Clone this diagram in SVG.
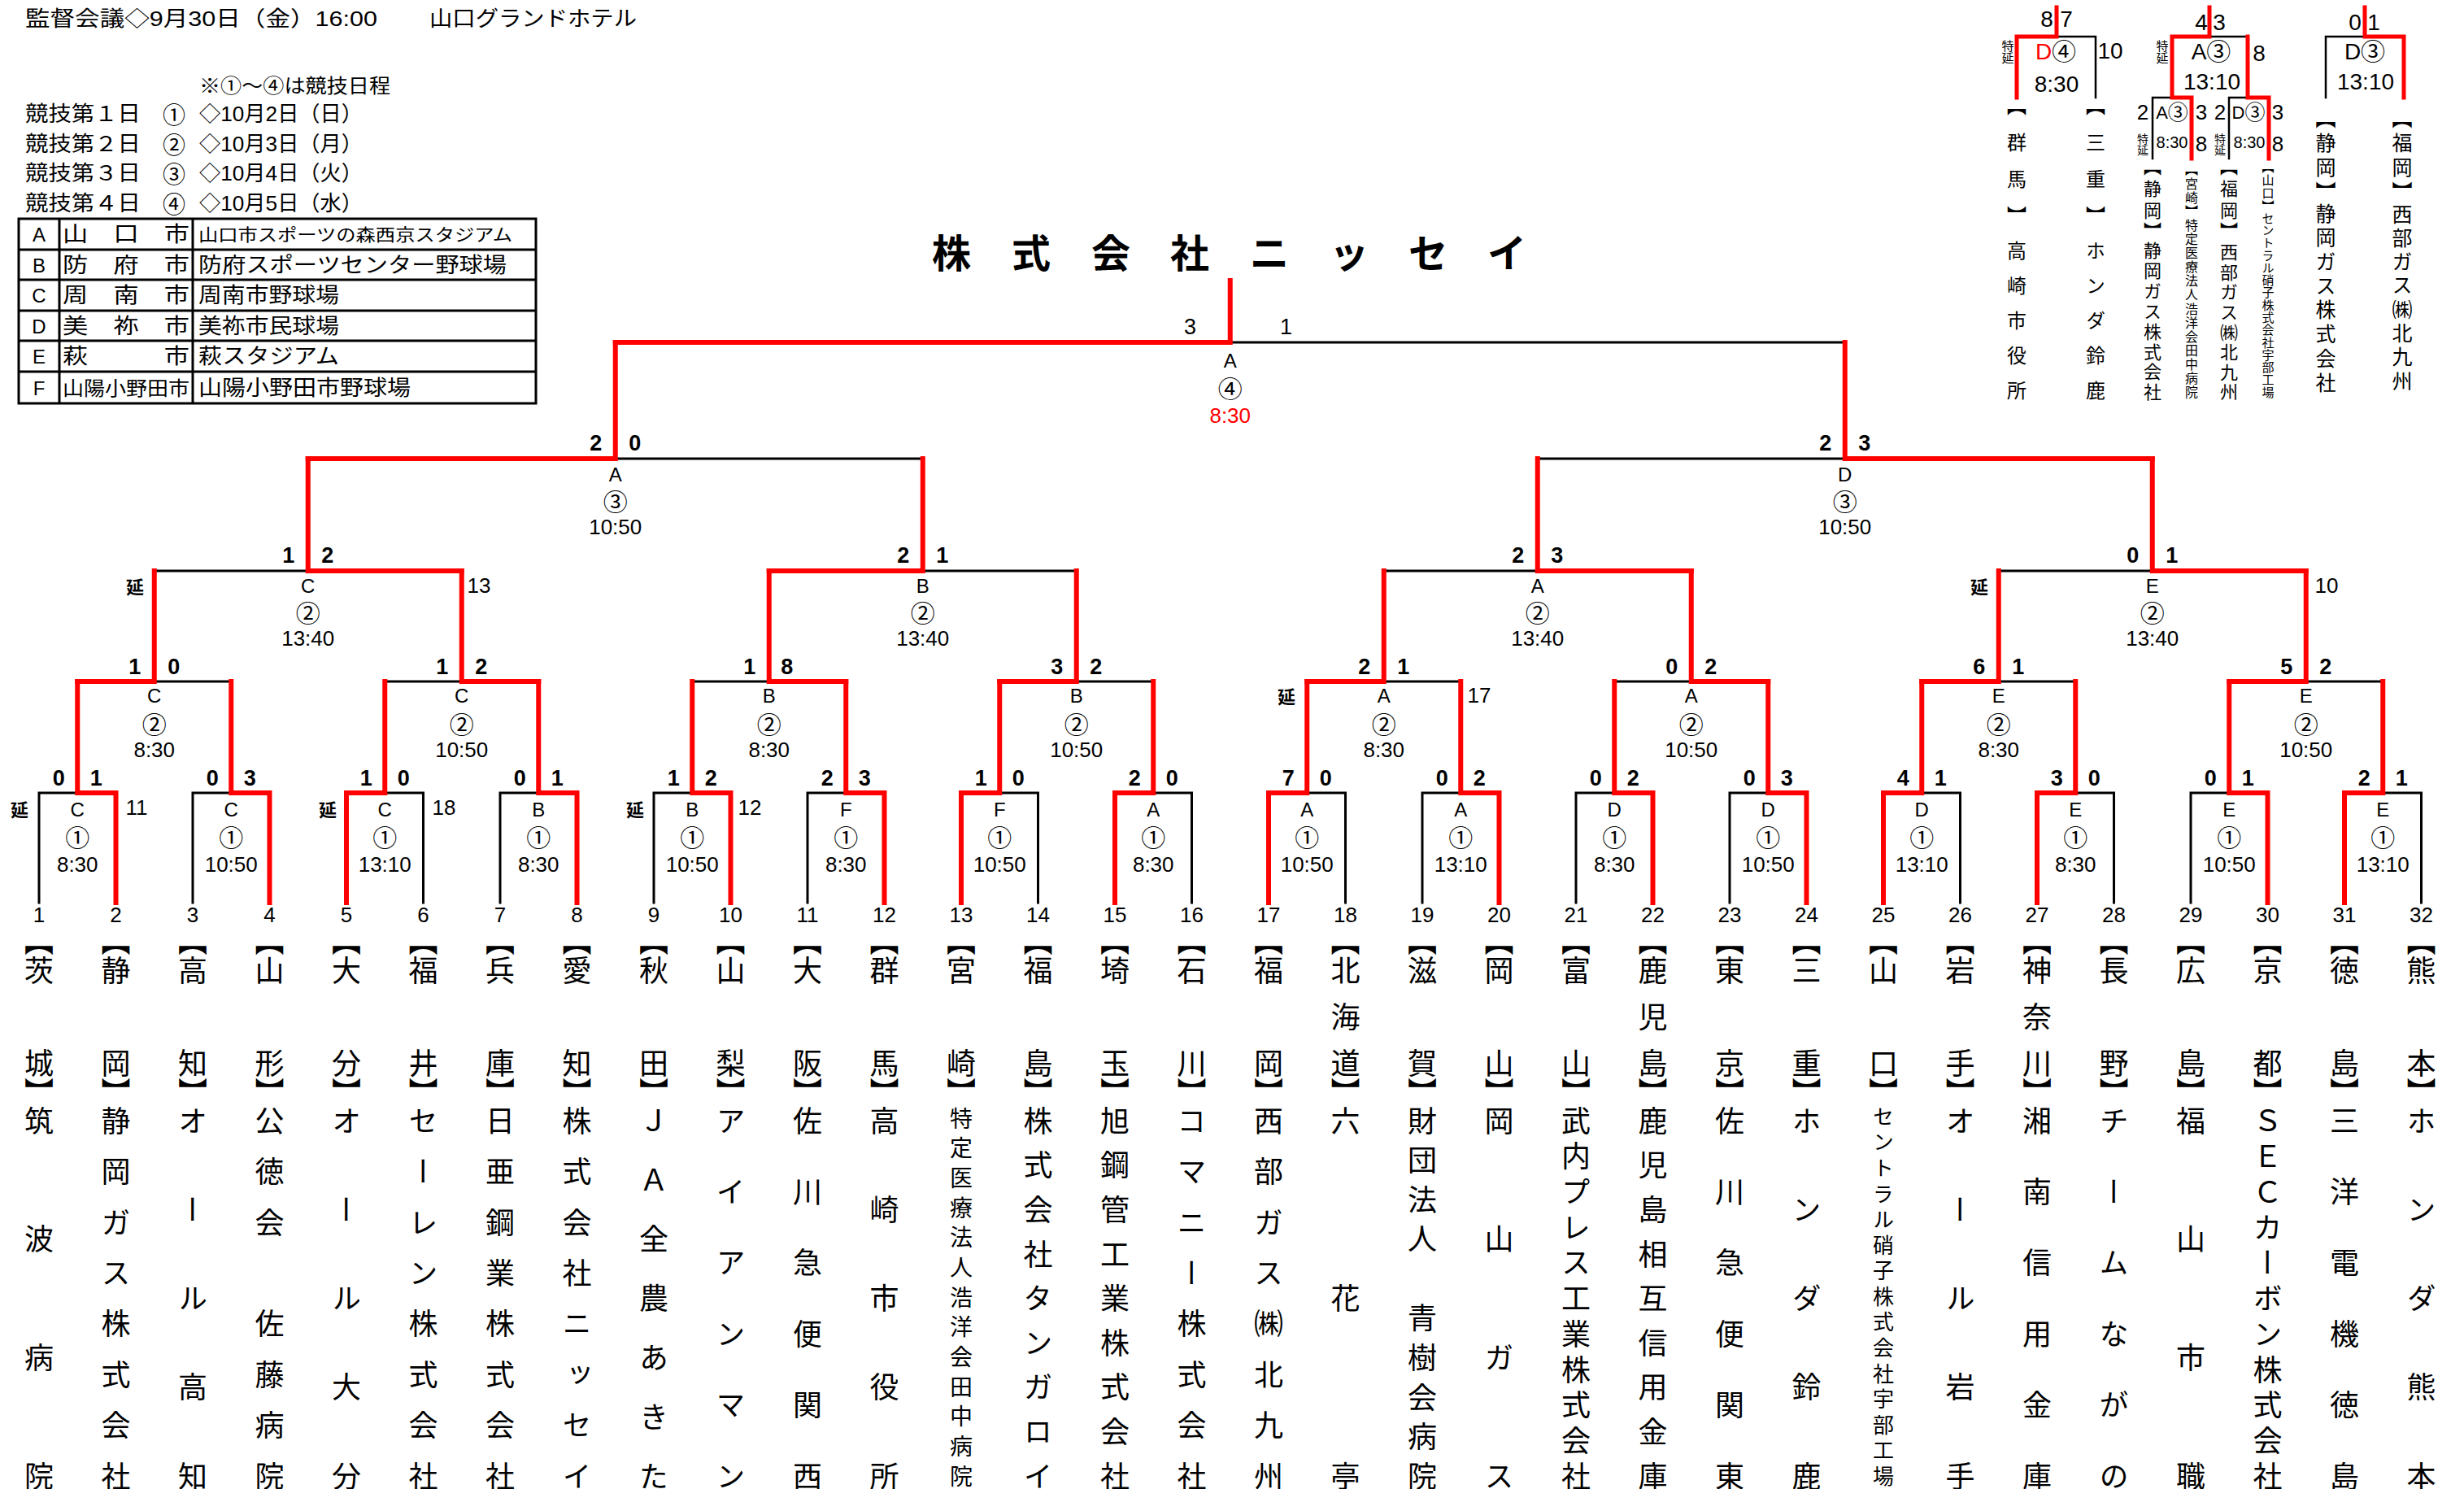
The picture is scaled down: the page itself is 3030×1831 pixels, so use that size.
<svg xmlns="http://www.w3.org/2000/svg" width="3030" height="1831" viewBox="0 0 3030 1831">
<style>
text{font-family:"Liberation Sans","Noto Sans CJK JP",sans-serif;dominant-baseline:central;fill:#000}
.r{fill:none;stroke:#f00;stroke-width:6;stroke-linecap:square;stroke-linejoin:miter}
.k{fill:none;stroke:#000;stroke-width:3;stroke-linecap:square}
.rs{fill:none;stroke:#f00;stroke-width:5;stroke-linecap:square}
.ks{fill:none;stroke:#000;stroke-width:2.5;stroke-linecap:square}
.tb{fill:none;stroke:#000;stroke-width:3}
.v{font-size:24px;text-anchor:middle}
.c{font-family:"Noto Sans CJK JP",sans-serif;font-size:30px;text-anchor:middle}
.t{font-size:26px;text-anchor:middle}
.s{font-size:27px;font-weight:bold;text-anchor:middle}
.fs{font-size:27px;text-anchor:middle}
.n{font-size:26px;text-anchor:middle}
.e{font-family:"Noto Sans CJK JP",sans-serif;font-size:22px;font-weight:bold;text-anchor:middle}
.x{font-size:26px;text-anchor:middle}
.vt{font-family:"Noto Sans CJK JP",sans-serif;writing-mode:vertical-rl;text-anchor:middle}
.f36{font-size:36px}
.f28{font-size:28px}
.f26{font-size:26px}
.lg{font-size:26px}
.lc{font-family:"Noto Sans CJK JP",sans-serif;font-size:28px;text-anchor:middle}
.u{font-size:28px;text-anchor:middle}
.red{fill:#f00}
</style>
<rect width="3030" height="1831" fill="#fff"/>

<g id="legend">
<text class="lg" x="31" y="23" textLength="433" lengthAdjust="spacingAndGlyphs">監督会議◇9月30日（金）16:00</text>
<text class="lg" x="528" y="23" textLength="255" lengthAdjust="spacingAndGlyphs">山口グランドホテル</text>
<text class="lg" x="245" y="105" style="font-size:24px" textLength="235" lengthAdjust="spacingAndGlyphs">※①～④は競技日程</text>
<text class="lg" x="31" y="140" textLength="142" lengthAdjust="spacingAndGlyphs">競技第１日</text>
<text class="lc" x="214" y="140">①</text>
<text class="lg" x="245" y="140" textLength="201" lengthAdjust="spacingAndGlyphs">◇10月2日（日）</text>
<text class="lg" x="31" y="177" textLength="142" lengthAdjust="spacingAndGlyphs">競技第２日</text>
<text class="lc" x="214" y="177">②</text>
<text class="lg" x="245" y="177" textLength="201" lengthAdjust="spacingAndGlyphs">◇10月3日（月）</text>
<text class="lg" x="31" y="213" textLength="142" lengthAdjust="spacingAndGlyphs">競技第３日</text>
<text class="lc" x="214" y="213">③</text>
<text class="lg" x="245" y="213" textLength="201" lengthAdjust="spacingAndGlyphs">◇10月4日（火）</text>
<text class="lg" x="31" y="250" textLength="142" lengthAdjust="spacingAndGlyphs">競技第４日</text>
<text class="lc" x="214" y="250">④</text>
<text class="lg" x="245" y="250" textLength="201" lengthAdjust="spacingAndGlyphs">◇10月5日（水）</text>
<rect class="tb" x="23" y="269" width="636" height="227"/>
<path class="tb" d="M23 307H659M23 344H659M23 382H659M23 419H659M23 457H659M73 269V496M237 269V496"/>
<text class="v" x="48" y="288">A</text>
<text class="v" x="48" y="326">B</text>
<text class="v" x="48" y="363">C</text>
<text class="v" x="48" y="401">D</text>
<text class="v" x="48" y="438">E</text>
<text class="v" x="48" y="477">F</text>
<text class="lg" x="77" y="288" textLength="156" lengthAdjust="spacingAndGlyphs">山　口　市</text>
<text class="lg" x="77" y="326" textLength="156" lengthAdjust="spacingAndGlyphs">防　府　市</text>
<text class="lg" x="77" y="363" textLength="156" lengthAdjust="spacingAndGlyphs">周　南　市</text>
<text class="lg" x="77" y="401" textLength="156" lengthAdjust="spacingAndGlyphs">美　祢　市</text>
<text class="lg" x="77" y="438" textLength="156" lengthAdjust="spacingAndGlyphs">萩　　　市</text>
<text class="lg" x="77" y="477" style="font-size:24px" textLength="156" lengthAdjust="spacingAndGlyphs">山陽小野田市</text>
<text class="lg" x="244" y="288" style="font-size:21px" textLength="386" lengthAdjust="spacingAndGlyphs">山口市スポーツの森西京スタジアム</text>
<text class="lg" x="244" y="326" textLength="379" lengthAdjust="spacingAndGlyphs">防府スポーツセンター野球場</text>
<text class="lg" x="244" y="363" textLength="173" lengthAdjust="spacingAndGlyphs">周南市野球場</text>
<text class="lg" x="244" y="401" textLength="173" lengthAdjust="spacingAndGlyphs">美祢市民球場</text>
<text class="lg" x="244" y="438" textLength="173" lengthAdjust="spacingAndGlyphs">萩スタジアム</text>
<text class="lg" x="244" y="477" textLength="261" lengthAdjust="spacingAndGlyphs">山陽小野田市野球場</text>
</g>

<g id="title">
<text style="font-family:'Noto Sans CJK JP',sans-serif;font-size:48px;font-weight:bold;text-anchor:middle" x="1170 1268 1366 1463 1561 1659 1756 1853" y="308">株式会社ニッセイ</text>
</g>

<g id="connectors">
<path class="k" d="M48 1110V975H95.25M237 1110V975H284.25M520.5 1110V975H473.25M615 1110V975H662.25M804 1110V975H851.25M993 1110V975H1040.25M1276.5 1110V975H1229.25M1465.5 1110V975H1418.25M1654.5 1110V975H1607.25M1749 1110V975H1796.25M1938 1110V975H1985.25M2127 1110V975H2174.25M2410.5 1110V975H2363.25M2599.5 1110V975H2552.25M2694 1110V975H2741.25M2977.5 1110V975H2930.25"/>
<path class="k" d="M189.75 838H284.25M567.75 838H473.25M945.75 838H851.25M1323.75 838H1418.25M1701.75 838H1796.25M2079.75 838H1985.25M2457.75 838H2552.25M2835.75 838H2930.25"/>
<path class="k" d="M378.75 702H189.75M1134.75 702H1323.75M1890.75 702H1701.75M2646.75 702H2457.75"/>
<path class="k" d="M756.75 564H1134.75M2268.75 564H1890.75M1512.75 421H2268.75"/>
<path class="r" d="M142.5 1110V975H95.25V838"/>
<path class="r" d="M331.5 1110V975H284.25V838"/>
<path class="r" d="M426 1110V975H473.25V838"/>
<path class="r" d="M709.5 1110V975H662.25V838"/>
<path class="r" d="M898.5 1110V975H851.25V838"/>
<path class="r" d="M1087.5 1110V975H1040.25V838"/>
<path class="r" d="M1182 1110V975H1229.25V838"/>
<path class="r" d="M1371 1110V975H1418.25V838"/>
<path class="r" d="M1560 1110V975H1607.25V838"/>
<path class="r" d="M1843.5 1110V975H1796.25V838"/>
<path class="r" d="M2032.5 1110V975H1985.25V838"/>
<path class="r" d="M2221.5 1110V975H2174.25V838"/>
<path class="r" d="M2316 1110V975H2363.25V838"/>
<path class="r" d="M2505 1110V975H2552.25V838"/>
<path class="r" d="M2788.5 1110V975H2741.25V838"/>
<path class="r" d="M2883 1110V975H2930.25V838"/>
<path class="r" d="M95.25 838H189.75V702"/>
<path class="r" d="M662.25 838H567.75V702"/>
<path class="r" d="M1040.25 838H945.75V702"/>
<path class="r" d="M1229.25 838H1323.75V702"/>
<path class="r" d="M1607.25 838H1701.75V702"/>
<path class="r" d="M2174.25 838H2079.75V702"/>
<path class="r" d="M2363.25 838H2457.75V702"/>
<path class="r" d="M2741.25 838H2835.75V702"/>
<path class="r" d="M567.75 702H378.75V564"/>
<path class="r" d="M945.75 702H1134.75V564"/>
<path class="r" d="M2079.75 702H1890.75V564"/>
<path class="r" d="M2835.75 702H2646.75V564"/>
<path class="r" d="M378.75 564H756.75V421"/>
<path class="r" d="M2646.75 564H2268.75V421"/>
<path class="r" d="M756.75 421H1512.75V345"/>
<path class="ks" d="M2529 45H2577V120M2717 45H2764M2647 195V120H2671M2741 195V120H2764M2908 45H2860V120"/>
<path class="rs" d="M2529 9V45H2480V120"/>
<path class="rs" d="M2717 9V45H2671V120H2695V195"/>
<path class="rs" d="M2764 45V120H2790V195"/>
<path class="rs" d="M2908 9V45H2956V120"/>
</g>

<g id="matches">
<g id="r1-1"><text class="s" x="72.25" y="957">0</text><text class="s" x="118.25" y="957">1</text><text class="v" x="95.25" y="995">C</text><text class="c" x="95.25" y="1028">①</text><text class="t" x="95.25" y="1063">8:30</text><text class="e" x="24" y="994">延</text><text class="x" x="168" y="993">11</text></g>
<g id="r1-2"><text class="s" x="261.25" y="957">0</text><text class="s" x="307.25" y="957">3</text><text class="v" x="284.25" y="995">C</text><text class="c" x="284.25" y="1028">①</text><text class="t" x="284.25" y="1063">10:50</text></g>
<g id="r1-3"><text class="s" x="450.25" y="957">1</text><text class="s" x="496.25" y="957">0</text><text class="v" x="473.25" y="995">C</text><text class="c" x="473.25" y="1028">①</text><text class="t" x="473.25" y="1063">13:10</text><text class="e" x="403" y="994">延</text><text class="x" x="546" y="993">18</text></g>
<g id="r1-4"><text class="s" x="639.25" y="957">0</text><text class="s" x="685.25" y="957">1</text><text class="v" x="662.25" y="995">B</text><text class="c" x="662.25" y="1028">①</text><text class="t" x="662.25" y="1063">8:30</text></g>
<g id="r1-5"><text class="s" x="828.25" y="957">1</text><text class="s" x="874.25" y="957">2</text><text class="v" x="851.25" y="995">B</text><text class="c" x="851.25" y="1028">①</text><text class="t" x="851.25" y="1063">10:50</text><text class="e" x="781" y="994">延</text><text class="x" x="922" y="993">12</text></g>
<g id="r1-6"><text class="s" x="1017.25" y="957">2</text><text class="s" x="1063.25" y="957">3</text><text class="v" x="1040.25" y="995">F</text><text class="c" x="1040.25" y="1028">①</text><text class="t" x="1040.25" y="1063">8:30</text></g>
<g id="r1-7"><text class="s" x="1206.25" y="957">1</text><text class="s" x="1252.25" y="957">0</text><text class="v" x="1229.25" y="995">F</text><text class="c" x="1229.25" y="1028">①</text><text class="t" x="1229.25" y="1063">10:50</text></g>
<g id="r1-8"><text class="s" x="1395.25" y="957">2</text><text class="s" x="1441.25" y="957">0</text><text class="v" x="1418.25" y="995">A</text><text class="c" x="1418.25" y="1028">①</text><text class="t" x="1418.25" y="1063">8:30</text></g>
<g id="r1-9"><text class="s" x="1584.25" y="957">7</text><text class="s" x="1630.25" y="957">0</text><text class="v" x="1607.25" y="995">A</text><text class="c" x="1607.25" y="1028">①</text><text class="t" x="1607.25" y="1063">10:50</text></g>
<g id="r1-10"><text class="s" x="1773.25" y="957">0</text><text class="s" x="1819.25" y="957">2</text><text class="v" x="1796.25" y="995">A</text><text class="c" x="1796.25" y="1028">①</text><text class="t" x="1796.25" y="1063">13:10</text></g>
<g id="r1-11"><text class="s" x="1962.25" y="957">0</text><text class="s" x="2008.25" y="957">2</text><text class="v" x="1985.25" y="995">D</text><text class="c" x="1985.25" y="1028">①</text><text class="t" x="1985.25" y="1063">8:30</text></g>
<g id="r1-12"><text class="s" x="2151.25" y="957">0</text><text class="s" x="2197.25" y="957">3</text><text class="v" x="2174.25" y="995">D</text><text class="c" x="2174.25" y="1028">①</text><text class="t" x="2174.25" y="1063">10:50</text></g>
<g id="r1-13"><text class="s" x="2340.25" y="957">4</text><text class="s" x="2386.25" y="957">1</text><text class="v" x="2363.25" y="995">D</text><text class="c" x="2363.25" y="1028">①</text><text class="t" x="2363.25" y="1063">13:10</text></g>
<g id="r1-14"><text class="s" x="2529.25" y="957">3</text><text class="s" x="2575.25" y="957">0</text><text class="v" x="2552.25" y="995">E</text><text class="c" x="2552.25" y="1028">①</text><text class="t" x="2552.25" y="1063">8:30</text></g>
<g id="r1-15"><text class="s" x="2718.25" y="957">0</text><text class="s" x="2764.25" y="957">1</text><text class="v" x="2741.25" y="995">E</text><text class="c" x="2741.25" y="1028">①</text><text class="t" x="2741.25" y="1063">10:50</text></g>
<g id="r1-16"><text class="s" x="2907.25" y="957">2</text><text class="s" x="2953.25" y="957">1</text><text class="v" x="2930.25" y="995">E</text><text class="c" x="2930.25" y="1028">①</text><text class="t" x="2930.25" y="1063">13:10</text></g>

<g id="r2-1"><text class="s" x="165.75" y="820">1</text><text class="s" x="213.75" y="820">0</text><text class="v" x="189.75" y="855">C</text><text class="c" x="189.75" y="889">②</text><text class="t" x="189.75" y="922">8:30</text></g>
<g id="r2-2"><text class="s" x="543.75" y="820">1</text><text class="s" x="591.75" y="820">2</text><text class="v" x="567.75" y="855">C</text><text class="c" x="567.75" y="889">②</text><text class="t" x="567.75" y="922">10:50</text></g>
<g id="r2-3"><text class="s" x="921.75" y="820">1</text><text class="s" x="967.75" y="820">8</text><text class="v" x="945.75" y="855">B</text><text class="c" x="945.75" y="889">②</text><text class="t" x="945.75" y="922">8:30</text></g>
<g id="r2-4"><text class="s" x="1299.75" y="820">3</text><text class="s" x="1347.75" y="820">2</text><text class="v" x="1323.75" y="855">B</text><text class="c" x="1323.75" y="889">②</text><text class="t" x="1323.75" y="922">10:50</text></g>
<g id="r2-5"><text class="s" x="1677.75" y="820">2</text><text class="s" x="1725.75" y="820">1</text><text class="v" x="1701.75" y="855">A</text><text class="c" x="1701.75" y="889">②</text><text class="t" x="1701.75" y="922">8:30</text><text class="e" x="1582" y="855">延</text><text class="x" x="1819" y="855">17</text></g>
<g id="r2-6"><text class="s" x="2055.75" y="820">0</text><text class="s" x="2103.75" y="820">2</text><text class="v" x="2079.75" y="855">A</text><text class="c" x="2079.75" y="889">②</text><text class="t" x="2079.75" y="922">10:50</text></g>
<g id="r2-7"><text class="s" x="2433.75" y="820">6</text><text class="s" x="2481.75" y="820">1</text><text class="v" x="2457.75" y="855">E</text><text class="c" x="2457.75" y="889">②</text><text class="t" x="2457.75" y="922">8:30</text></g>
<g id="r2-8"><text class="s" x="2811.75" y="820">5</text><text class="s" x="2859.75" y="820">2</text><text class="v" x="2835.75" y="855">E</text><text class="c" x="2835.75" y="889">②</text><text class="t" x="2835.75" y="922">10:50</text></g>

<g id="r3-1"><text class="s" x="354.75" y="683">1</text><text class="s" x="402.75" y="683">2</text><text class="v" x="378.75" y="720">C</text><text class="c" x="378.75" y="752">②</text><text class="t" x="378.75" y="785">13:40</text><text class="e" x="166" y="720">延</text><text class="x" x="589" y="720">13</text></g>
<g id="r3-2"><text class="s" x="1110.75" y="683">2</text><text class="s" x="1158.75" y="683">1</text><text class="v" x="1134.75" y="720">B</text><text class="c" x="1134.75" y="752">②</text><text class="t" x="1134.75" y="785">13:40</text></g>
<g id="r3-3"><text class="s" x="1866.75" y="683">2</text><text class="s" x="1914.75" y="683">3</text><text class="v" x="1890.75" y="720">A</text><text class="c" x="1890.75" y="752">②</text><text class="t" x="1890.75" y="785">13:40</text></g>
<g id="r3-4"><text class="s" x="2622.75" y="683">0</text><text class="s" x="2670.75" y="683">1</text><text class="v" x="2646.75" y="720">E</text><text class="c" x="2646.75" y="752">②</text><text class="t" x="2646.75" y="785">13:40</text><text class="e" x="2434" y="720">延</text><text class="x" x="2861" y="720">10</text></g>

<g id="sf-1"><text class="s" x="732.75" y="545">2</text><text class="s" x="780.75" y="545">0</text><text class="v" x="756.75" y="583">A</text><text class="c" x="756.75" y="615">③</text><text class="t" x="756.75" y="648">10:50</text></g>
<g id="sf-2"><text class="s" x="2244.75" y="545">2</text><text class="s" x="2292.75" y="545">3</text><text class="v" x="2268.75" y="583">D</text><text class="c" x="2268.75" y="615">③</text><text class="t" x="2268.75" y="648">10:50</text></g>

<g id="final"><text class="fs" x="1463.5" y="402">3</text><text class="fs" x="1581.5" y="402">1</text><text class="v" x="1512.75" y="443">A</text><text class="c" x="1512.75" y="476">④</text><text class="t red" x="1512.75" y="511">8:30</text></g>
</g>

<g id="teams">
<g id="team1"><text class="n" x="48" y="1125">1</text><text class="vt f36" x="48" y="1157 1193 1307 1343">【茨城】</text><text class="vt f36" x="48" y="1378 1523.7 1669.3 1815">筑波病院</text></g>
<g id="team2"><text class="n" x="142.5" y="1125">2</text><text class="vt f36" x="142.5" y="1157 1193 1307 1343">【静岡】</text><text class="vt f36" x="142.5" y="1378 1440.4 1502.9 1565.3 1627.7 1690.1 1752.6 1815">静岡ガス株式会社</text></g>
<g id="team3"><text class="n" x="237" y="1125">3</text><text class="vt f36" x="237" y="1157 1193 1307 1343">【高知】</text><text class="vt f36" x="237" y="1378 1487.3 1596.5 1705.8 1815">オール高知</text></g>
<g id="team4"><text class="n" x="331.5" y="1125">4</text><text class="vt f36" x="331.5" y="1157 1193 1307 1343">【山形】</text><text class="vt f36" x="331.5" y="1378 1440.4 1502.9 1565.3 1627.7 1690.1 1752.6 1815">公徳会　佐藤病院</text></g>
<g id="team5"><text class="n" x="426" y="1125">5</text><text class="vt f36" x="426" y="1157 1193 1307 1343">【大分】</text><text class="vt f36" x="426" y="1378 1487.3 1596.5 1705.8 1815">オール大分</text></g>
<g id="team6"><text class="n" x="520.5" y="1125">6</text><text class="vt f36" x="520.5" y="1157 1193 1307 1343">【福井】</text><text class="vt f36" x="520.5" y="1378 1440.4 1502.9 1565.3 1627.7 1690.1 1752.6 1815">セーレン株式会社</text></g>
<g id="team7"><text class="n" x="615" y="1125">7</text><text class="vt f36" x="615" y="1157 1193 1307 1343">【兵庫】</text><text class="vt f36" x="615" y="1378 1440.4 1502.9 1565.3 1627.7 1690.1 1752.6 1815">日亜鋼業株式会社</text></g>
<g id="team8"><text class="n" x="709.5" y="1125">8</text><text class="vt f36" x="709.5" y="1157 1193 1307 1343">【愛知】</text><text class="vt f36" x="709.5" y="1378 1440.4 1502.9 1565.3 1627.7 1690.1 1752.6 1815">株式会社ニッセイ</text></g>
<g id="team9"><text class="n" x="804" y="1125">9</text><text class="vt f36" x="804" y="1157 1193 1307 1343">【秋田】</text><text class="vt f36" x="804" y="1378 1450.8 1523.7 1596.5 1669.3 1742.2 1815">ＪＡ全農あきた</text></g>
<g id="team10"><text class="n" x="898.5" y="1125">10</text><text class="vt f36" x="898.5" y="1157 1193 1307 1343">【山梨】</text><text class="vt f36" x="898.5" y="1378 1465.4 1552.8 1640.2 1727.6 1815">アイアンマン</text></g>
<g id="team11"><text class="n" x="993" y="1125">11</text><text class="vt f36" x="993" y="1157 1193 1307 1343">【大阪】</text><text class="vt f36" x="993" y="1378 1465.4 1552.8 1640.2 1727.6 1815">佐川急便関西</text></g>
<g id="team12"><text class="n" x="1087.5" y="1125">12</text><text class="vt f36" x="1087.5" y="1157 1193 1307 1343">【群馬】</text><text class="vt f36" x="1087.5" y="1378 1487.3 1596.5 1705.8 1815">高崎市役所</text></g>
<g id="team13"><text class="n" x="1182" y="1125">13</text><text class="vt f36" x="1182" y="1157 1193 1307 1343">【宮崎】</text><text class="vt f28" x="1182" y="1375 1411.7 1448.3 1485 1521.7 1558.3 1595 1631.7 1668.3 1705 1741.7 1778.3 1815">特定医療法人浩洋会田中病院</text></g>
<g id="team14"><text class="n" x="1276.5" y="1125">14</text><text class="vt f36" x="1276.5" y="1157 1193 1307 1343">【福島】</text><text class="vt f36" x="1276.5" y="1378 1432.6 1487.3 1541.9 1596.5 1651.1 1705.8 1760.4 1815">株式会社タンガロイ</text></g>
<g id="team15"><text class="n" x="1371" y="1125">15</text><text class="vt f36" x="1371" y="1157 1193 1307 1343">【埼玉】</text><text class="vt f36" x="1371" y="1378 1432.6 1487.3 1541.9 1596.5 1651.1 1705.8 1760.4 1815">旭鋼管工業株式会社</text></g>
<g id="team16"><text class="n" x="1465.5" y="1125">16</text><text class="vt f36" x="1465.5" y="1157 1193 1307 1343">【石川】</text><text class="vt f36" x="1465.5" y="1378 1440.4 1502.9 1565.3 1627.7 1690.1 1752.6 1815">コマニー株式会社</text></g>
<g id="team17"><text class="n" x="1560" y="1125">17</text><text class="vt f36" x="1560" y="1157 1193 1307 1343">【福岡】</text><text class="vt f36" x="1560" y="1378 1440.4 1502.9 1565.3 1627.7 1690.1 1752.6 1815">西部ガス㈱北九州</text></g>
<g id="team18"><text class="n" x="1654.5" y="1125">18</text><text class="vt f36" x="1654.5" y="1157 1193 1250 1307 1343">【北海道】</text><text class="vt f36" x="1654.5" y="1378 1596.5 1815">六花亭</text></g>
<g id="team19"><text class="n" x="1749" y="1125">19</text><text class="vt f36" x="1749" y="1157 1193 1307 1343">【滋賀】</text><text class="vt f36" x="1749" y="1378 1426.6 1475.1 1523.7 1572.2 1620.8 1669.3 1717.9 1766.4 1815">財団法人　青樹会病院</text></g>
<g id="team20"><text class="n" x="1843.5" y="1125">20</text><text class="vt f36" x="1843.5" y="1157 1193 1307 1343">【岡山】</text><text class="vt f36" x="1843.5" y="1378 1523.7 1669.3 1815">岡山ガス</text></g>
<g id="team21"><text class="n" x="1938" y="1125">21</text><text class="vt f36" x="1938" y="1157 1193 1307 1343">【富山】</text><text class="vt f36" x="1938" y="1378 1421.7 1465.4 1509.1 1552.8 1596.5 1640.2 1683.9 1727.6 1771.3 1815">武内プレス工業株式会社</text></g>
<g id="team22"><text class="n" x="2032.5" y="1125">22</text><text class="vt f36" x="2032.5" y="1157 1193 1250 1307 1343">【鹿児島】</text><text class="vt f36" x="2032.5" y="1378 1432.6 1487.3 1541.9 1596.5 1651.1 1705.8 1760.4 1815">鹿児島相互信用金庫</text></g>
<g id="team23"><text class="n" x="2127" y="1125">23</text><text class="vt f36" x="2127" y="1157 1193 1307 1343">【東京】</text><text class="vt f36" x="2127" y="1378 1465.4 1552.8 1640.2 1727.6 1815">佐川急便関東</text></g>
<g id="team24"><text class="n" x="2221.5" y="1125">24</text><text class="vt f36" x="2221.5" y="1157 1193 1307 1343">【三重】</text><text class="vt f36" x="2221.5" y="1378 1487.3 1596.5 1705.8 1815">ホンダ鈴鹿</text></g>
<g id="team25"><text class="n" x="2316" y="1125">25</text><text class="vt f36" x="2316" y="1157 1193 1307 1343">【山口】</text><text class="vt f26" x="2316" y="1373 1404.6 1436.1 1467.7 1499.3 1530.9 1562.4 1594 1625.6 1657.1 1688.7 1720.3 1751.9 1783.4 1815">セントラル硝子株式会社宇部工場</text></g>
<g id="team26"><text class="n" x="2410.5" y="1125">26</text><text class="vt f36" x="2410.5" y="1157 1193 1307 1343">【岩手】</text><text class="vt f36" x="2410.5" y="1378 1487.3 1596.5 1705.8 1815">オール岩手</text></g>
<g id="team27"><text class="n" x="2505" y="1125">27</text><text class="vt f36" x="2505" y="1157 1193 1250 1307 1343">【神奈川】</text><text class="vt f36" x="2505" y="1378 1465.4 1552.8 1640.2 1727.6 1815">湘南信用金庫</text></g>
<g id="team28"><text class="n" x="2599.5" y="1125">28</text><text class="vt f36" x="2599.5" y="1157 1193 1307 1343">【長野】</text><text class="vt f36" x="2599.5" y="1378 1465.4 1552.8 1640.2 1727.6 1815">チームながの</text></g>
<g id="team29"><text class="n" x="2694" y="1125">29</text><text class="vt f36" x="2694" y="1157 1193 1307 1343">【広島】</text><text class="vt f36" x="2694" y="1378 1523.7 1669.3 1815">福山市職</text></g>
<g id="team30"><text class="n" x="2788.5" y="1125">30</text><text class="vt f36" x="2788.5" y="1157 1193 1307 1343">【京都】</text><text class="vt f36" x="2788.5" y="1378 1421.7 1465.4 1509.1 1552.8 1596.5 1640.2 1683.9 1727.6 1771.3 1815">ＳＥＣカーボン株式会社</text></g>
<g id="team31"><text class="n" x="2883" y="1125">31</text><text class="vt f36" x="2883" y="1157 1193 1307 1343">【徳島】</text><text class="vt f36" x="2883" y="1378 1465.4 1552.8 1640.2 1727.6 1815">三洋電機徳島</text></g>
<g id="team32"><text class="n" x="2977.5" y="1125">32</text><text class="vt f36" x="2977.5" y="1157 1193 1307 1343">【熊本】</text><text class="vt f36" x="2977.5" y="1378 1487.3 1596.5 1705.8 1815">ホンダ熊本</text></g>
</g>

<g id="extra-brackets">
<g id="extra-d4">
<text class="u" x="2517" y="23">8</text><text class="u" x="2541" y="23">7</text>
<text class="vt" style="font-size:15px" x="2469" y="64">特延</text>
<text class="u" x="2528" y="63"><tspan class="red">D</tspan><tspan style="font-size:30px">④</tspan></text>
<text class="u" x="2529" y="103">8:30</text>
<text class="u" x="2595" y="62">10</text>
<text class="vt" style="font-size:24px" x="2480" y="130 175 220 265">【群馬】</text>
<text class="vt" style="font-size:24px" x="2480" y="308 351 394 437 480">高崎市役所</text>
<text class="vt" style="font-size:24px" x="2577" y="130 175 220 265">【三重】</text>
<text class="vt" style="font-size:24px" x="2577" y="308 351 394 437 480">ホンダ鈴鹿</text>
</g>
<g id="extra-a3">
<text class="u" x="2707" y="27">4</text><text class="u" x="2729" y="27">3</text>
<text class="vt" style="font-size:15px" x="2659" y="64">特延</text>
<text class="u" x="2719" y="63">A<tspan style="font-size:30px">③</tspan></text>
<text class="u" x="2720" y="100">13:10</text>
<text class="u" x="2778" y="65">8</text>
<text class="t" x="2635" y="138">2</text><text style="font-size:22px;text-anchor:middle" x="2671" y="138">A<tspan style="font-size:25px">③</tspan></text><text class="t" x="2707" y="138">3</text>
<text class="vt" style="font-size:14px" x="2635" y="178">特延</text>
<text style="font-size:20px;text-anchor:middle" x="2671" y="175">8:30</text><text class="t" x="2707" y="177">8</text>
<text class="t" x="2730" y="138">2</text><text style="font-size:22px;text-anchor:middle" x="2765" y="138">D<tspan style="font-size:25px">③</tspan></text><text class="t" x="2801" y="138">3</text>
<text class="vt" style="font-size:14px" x="2730" y="178">特延</text>
<text style="font-size:20px;text-anchor:middle" x="2766" y="175">8:30</text><text class="t" x="2801" y="177">8</text>
<text class="vt" style="font-size:22px" x="2647" y="205 232 259 284">【静岡】</text>
<text class="vt" style="font-size:22px" x="2647" y="308 332.9 357.7 382.6 407.4 432.3 457.1 482">静岡ガス株式会社</text>
<text class="vt" style="font-size:16px" x="2695" y="208 226 243 260">【宮崎】</text>
<text class="vt" style="font-size:16px" x="2695" y="277 294.1 311.2 328.3 345.3 362.4 379.5 396.6 413.7 430.8 447.8 464.9 482">特定医療法人浩洋会田中病院</text>
<text class="vt" style="font-size:22px" x="2741" y="205 232 259 284">【福岡】</text>
<text class="vt" style="font-size:22px" x="2741" y="310 334.6 359.1 383.7 408.3 432.9 457.4 482">西部ガス㈱北九州</text>
<text class="vt" style="font-size:15px" x="2789" y="205 221 237 253">【山口】</text>
<text class="vt" style="font-size:15px" x="2789" y="268 283.3 298.6 313.9 329.1 344.4 359.7 375 390.3 405.6 420.9 436.1 451.4 466.7 482">セントラル硝子株式会社宇部工場</text>
</g>
<g id="extra-d3">
<text class="u" x="2896" y="27">0</text><text class="u" x="2919" y="27">1</text>
<text class="u" x="2908" y="63">D<tspan style="font-size:30px">③</tspan></text>
<text class="u" x="2909" y="100">13:10</text>
<text class="vt" style="font-size:25px" x="2860" y="145 175 205 235">【静岡】</text>
<text class="vt" style="font-size:25px" x="2860" y="262 291.7 321.4 351.1 380.9 410.6 440.3 470">静岡ガス株式会社</text>
<text class="vt" style="font-size:25px" x="2954" y="145 175 205 235">【福岡】</text>
<text class="vt" style="font-size:25px" x="2954" y="263 292.3 321.6 350.9 380.1 409.4 438.7 468">西部ガス㈱北九州</text>
</g>
</g>
</svg>
